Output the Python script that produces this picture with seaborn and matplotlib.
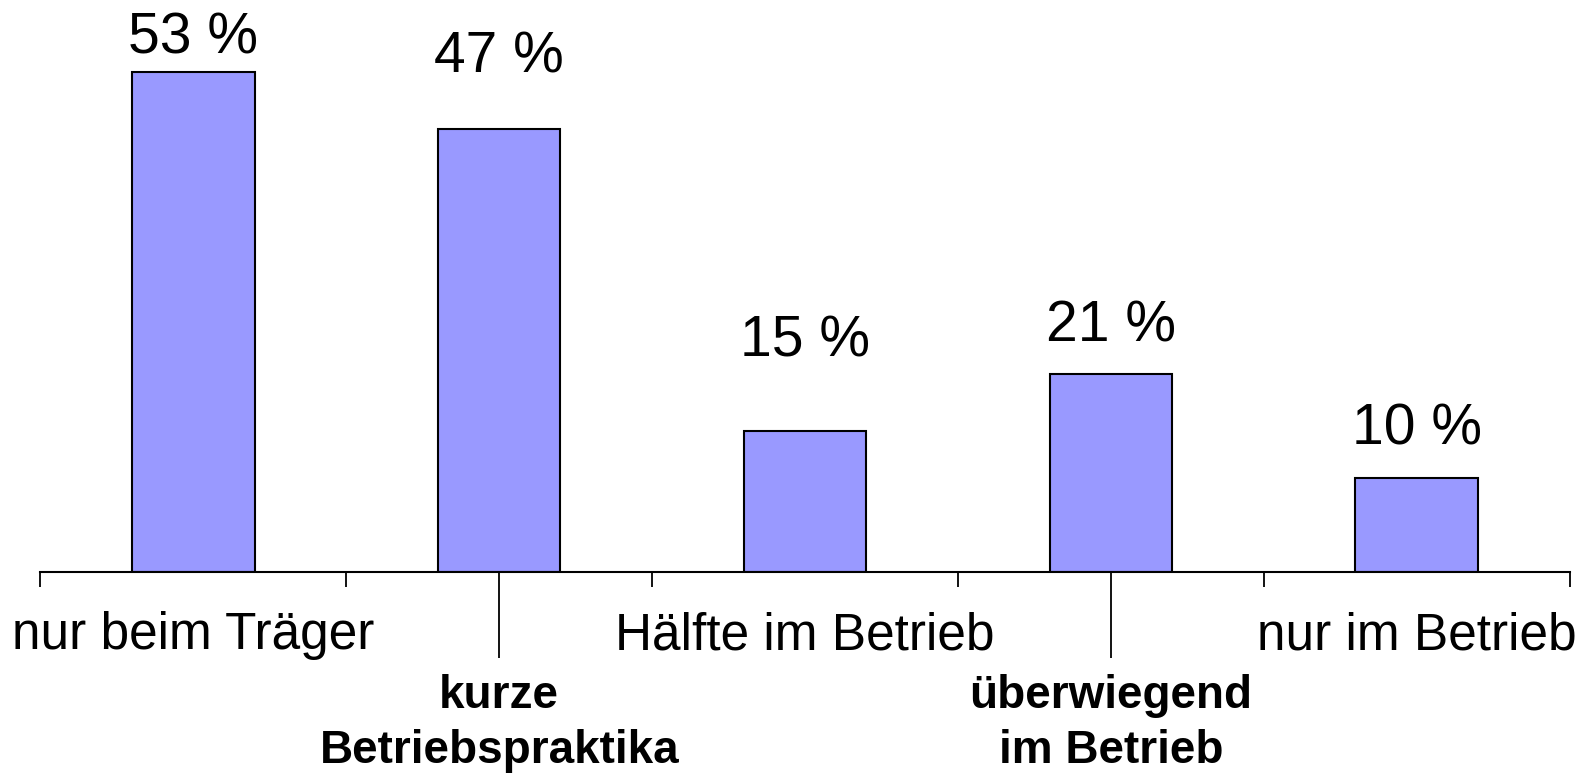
import matplotlib
matplotlib.use("Agg")
import numpy as np
import pandas as pd
import seaborn as sns
import matplotlib.pyplot as plt

categories = ["nur beim Träger", "kurze\nBetriebspraktika", "Hälfte im Betrieb",
              "überwiegend\nim Betrieb", "nur im Betrieb"]
values = [53, 47, 15, 21, 10]
value_labels = ["53 %", "47 %", "15 %", "21 %", "10 %"]
label_bold = [False, True, False, True, False]

# how far the value label sits above its bar (in % units), as in the original
label_offsets = [3.6, 7.6, 9.4, 5.0, 5.1]

sns.set_style("white")
plt.rcParams['font.family'] = ['Liberation Sans', 'DejaVu Sans']
plt.rcParams['text.color'] = 'black'

df = pd.DataFrame({"cat": categories, "val": values})

fig = plt.figure(figsize=(15.87, 7.75), dpi=100)
ax = fig.add_axes([0.0255, 0.262, 0.9635, 0.730])

sns.barplot(data=df, x="cat", y="val", color="#9999FF", saturation=1,
            width=0.4, edgecolor="black", linewidth=1.5, ax=ax)

ax.set_xlim(-0.5, len(categories) - 0.5)
ax.set_ylim(0, 60)
ax.set_xlabel("")
ax.set_ylabel("")
ax.set_yticks([])
for s in ["top", "left", "right"]:
    ax.spines[s].set_visible(False)
ax.spines["bottom"].set_linewidth(1.5)
ax.spines["bottom"].set_color("black")

# short ticks at category borders, long ticks for the bold labels
ax.set_xticks(np.arange(-0.5, len(categories), 1.0))
ax.set_xticklabels([])
ax.tick_params(axis="x", which="major", direction="out", length=11, width=1.3,
               color="black", bottom=True)
ax.set_xticks([i for i, b in enumerate(label_bold) if b], minor=True)
ax.tick_params(axis="x", which="minor", direction="out", length=62, width=1.3,
               color="black", bottom=True)

tr = ax.get_xaxis_transform()
for i, (cat, bold) in enumerate(zip(categories, label_bold)):
    if bold:
        ax.text(i, -0.268, cat, transform=tr, ha="center", va="center",
                fontsize=33, fontweight="bold", linespacing=1.3, color="black")
    else:
        ax.text(i, -0.113, cat, transform=tr, ha="center", va="center",
                fontsize=37, color="black")

for i, (v, lab, off) in enumerate(zip(values, value_labels, label_offsets)):
    ax.text(i, v + off, lab, ha="center", va="center", fontsize=41, color="black")

fig.savefig("out.png", dpi=100)
